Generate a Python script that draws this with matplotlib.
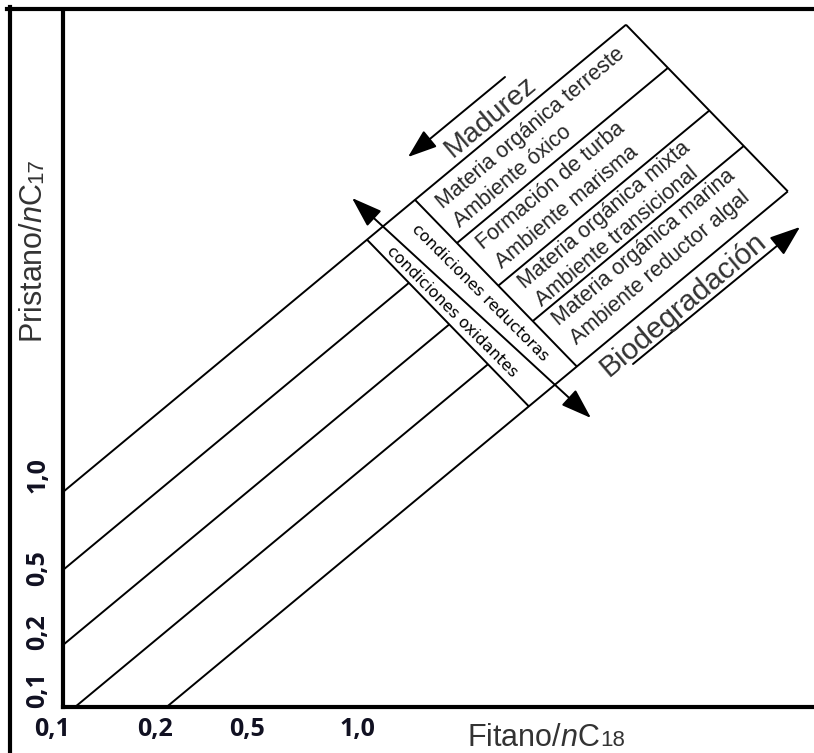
import matplotlib
matplotlib.use('Agg')
import matplotlib.pyplot as plt
from matplotlib.patches import FancyArrowPatch

plt.rcParams['font.family'] = ['Liberation Sans', 'DejaVu Sans']
plt.rcParams['mathtext.fontset'] = 'custom'
plt.rcParams['mathtext.rm'] = 'Liberation Sans'
plt.rcParams['mathtext.it'] = 'Liberation Sans:italic'

# ── Diagram geometry (1 unit = 1 px, origin at the axes corner) ──────────────
ISO_SLOPE = 0.83              # Pr/Ph iso-lines
top_b, bottom_b = 215, -86    # intercepts of the two lines bounding the box
iso_left_b = [137, 62, -10]   # iso-lines that stop at the oxidising band
divider_b = [137, 60, -4]     # compartment dividers inside the box

BAND_SLOPE = -1.03
band_x0 = [304, 352]          # band edges (where they leave the top line)
edge_x0 = 563                 # right-hand edge of the box (top corner)

cond_arrow = [(289, 509), (528, 289)]
madurez_arrow = [(442, 630), (345, 550)]
biodeg_arrow = [(570, 343), (737, 480)]

x_tick_pos = [-11, 92, 184, 294]
x_tick_lab = ['0,1', '0,2', '0,5', '1,0']
y_tick_pos = [17, 75, 139, 232]
y_tick_lab = ['0,1', '0,2', '0,5', '1,0']

compartments = [
    ('Materia orgánica terreste', (468, 579)),
    ('Ambiente óxico', (450, 530)),
    ('Formación de turba', (488, 521)),
    ('Ambiente marisma', (504, 500)),
    ('Materia orgánica mixta', (541, 492)),
    ('Ambiente transicional', (554, 470)),
    ('Materia orgánica marina', (581, 459)),
    ('Ambiente reductor algal', (597, 439)),
]
band_texts = [
    ('condiciones reductoras', (417, 414)),
    ('condiciones oxidantes', (389, 395)),
]


def iso_y(b, x):
    return ISO_SLOPE * x + b


def cross_x(x0, b):
    # x where the cross line leaving the top line at x0 meets iso-line b
    return x0 + (top_b - b) / (ISO_SLOPE - BAND_SLOPE)


def seg(ax, x1, y1, x2, y2, lw=1.4):
    ax.plot([x1, x2], [y1, y2], color='black', lw=lw, solid_capstyle='butt')


def arrow(ax, p0, p1, style):
    ax.add_patch(FancyArrowPatch(p0, p1, arrowstyle=style, mutation_scale=1,
                                 color='black', lw=1.4, shrinkA=0, shrinkB=0))


fig = plt.figure(figsize=(8.14, 7.53), dpi=100)
ax = fig.add_axes([0, 0, 1, 1])
ax.set_xlim(-63, 751)
ax.set_ylim(-46, 707)
ax.patch.set_alpha(0)

# axes
for s in ['top', 'right']:
    ax.spines[s].set_visible(False)
ax.spines['left'].set_position(('data', 0))
ax.spines['bottom'].set_position(('data', 0))
ax.spines['left'].set_bounds(0, 697)
ax.spines['bottom'].set_bounds(0, 751)
ax.spines['left'].set_linewidth(3)
ax.spines['bottom'].set_linewidth(3)

tick_font = dict(fontfamily='Open Sans', fontweight='bold', fontsize=18, color='#111122')
ax.set_xticks(x_tick_pos, x_tick_lab, **tick_font)
ax.set_yticks(y_tick_pos, y_tick_lab, rotation=90, va='center', **tick_font)
ax.tick_params(axis='both', which='major', length=0)
ax.tick_params(axis='x', pad=7)
ax.tick_params(axis='y', pad=9)
ax.set_yticks([y_tick_pos[-1]], minor=True)
ax.tick_params(axis='y', which='minor', length=6, width=1)

# outer frame
ax.plot([-56, 751], [698, 698], color='black', lw=3, clip_on=False)
ax.plot([-53, -53], [-46, 700], color='black', lw=3, clip_on=False)

# bounding iso-lines of the box
x_top_end = edge_x0
seg(ax, 0, iso_y(top_b, 0), x_top_end, iso_y(top_b, x_top_end))
x_bot_start = -bottom_b / ISO_SLOPE
x_bot_end = cross_x(edge_x0, bottom_b)
seg(ax, x_bot_start, 0, x_bot_end, iso_y(bottom_b, x_bot_end))

# iso-lines from the axes to the oxidising band
for b in iso_left_b:
    x0 = max(0, -b / ISO_SLOPE)
    x1 = cross_x(band_x0[0], b)
    seg(ax, x0, iso_y(b, x0), x1, iso_y(b, x1))

# compartment dividers
for b in divider_b:
    x0 = cross_x(band_x0[1], b)
    x1 = cross_x(edge_x0, b)
    seg(ax, x0, iso_y(b, x0), x1, iso_y(b, x1))

# band edges and right edge
for x0 in band_x0 + [edge_x0]:
    x1 = cross_x(x0, bottom_b)
    seg(ax, x0, iso_y(top_b, x0), x1, iso_y(bottom_b, x1))

# arrows
arrow(ax, cond_arrow[0], cond_arrow[1], '<|-|>,head_length=19,head_width=6.5')
arrow(ax, madurez_arrow[0], madurez_arrow[1], '-|>,head_length=18,head_width=6.5')
arrow(ax, biodeg_arrow[0], biodeg_arrow[1], '-|>,head_length=19,head_width=7')

# texts
txt_col = '#262626'
for label, (x, y) in compartments:
    ax.text(x, y, label, rotation=40, rotation_mode='anchor', ha='center',
            va='center', fontsize=15.5, color=txt_col)
for label, (x, y) in band_texts:
    ax.text(x, y, label, rotation=-45, rotation_mode='anchor', ha='center',
            va='center', fontsize=11.5, family='DejaVu Sans', color='black')

ax.text(428, 590, 'Madurez', rotation=40, rotation_mode='anchor', ha='center',
        va='center', fontsize=20.5, color='#333333')
ax.text(620, 402, 'Biodegradación', rotation=40, rotation_mode='anchor',
        ha='center', va='center', fontsize=21.5, color='#333333')

# axis titles
ax.text(537, -39, r'Fitano/$\mathit{n}$C', ha='right', va='baseline',
        fontsize=22, color='#333333')
ax.text(537, -39, '18', ha='left', va='baseline', fontsize=16, color='#333333')
ax.text(-21, 524, r'Pristano/$\mathit{n}$C', rotation=90, rotation_mode='anchor',
        ha='right', va='baseline', fontsize=22, color='#333333')
ax.text(-21, 524, '17', rotation=90, rotation_mode='anchor', ha='left',
        va='baseline', fontsize=16, color='#333333')

fig.savefig('out.png', dpi=100)
